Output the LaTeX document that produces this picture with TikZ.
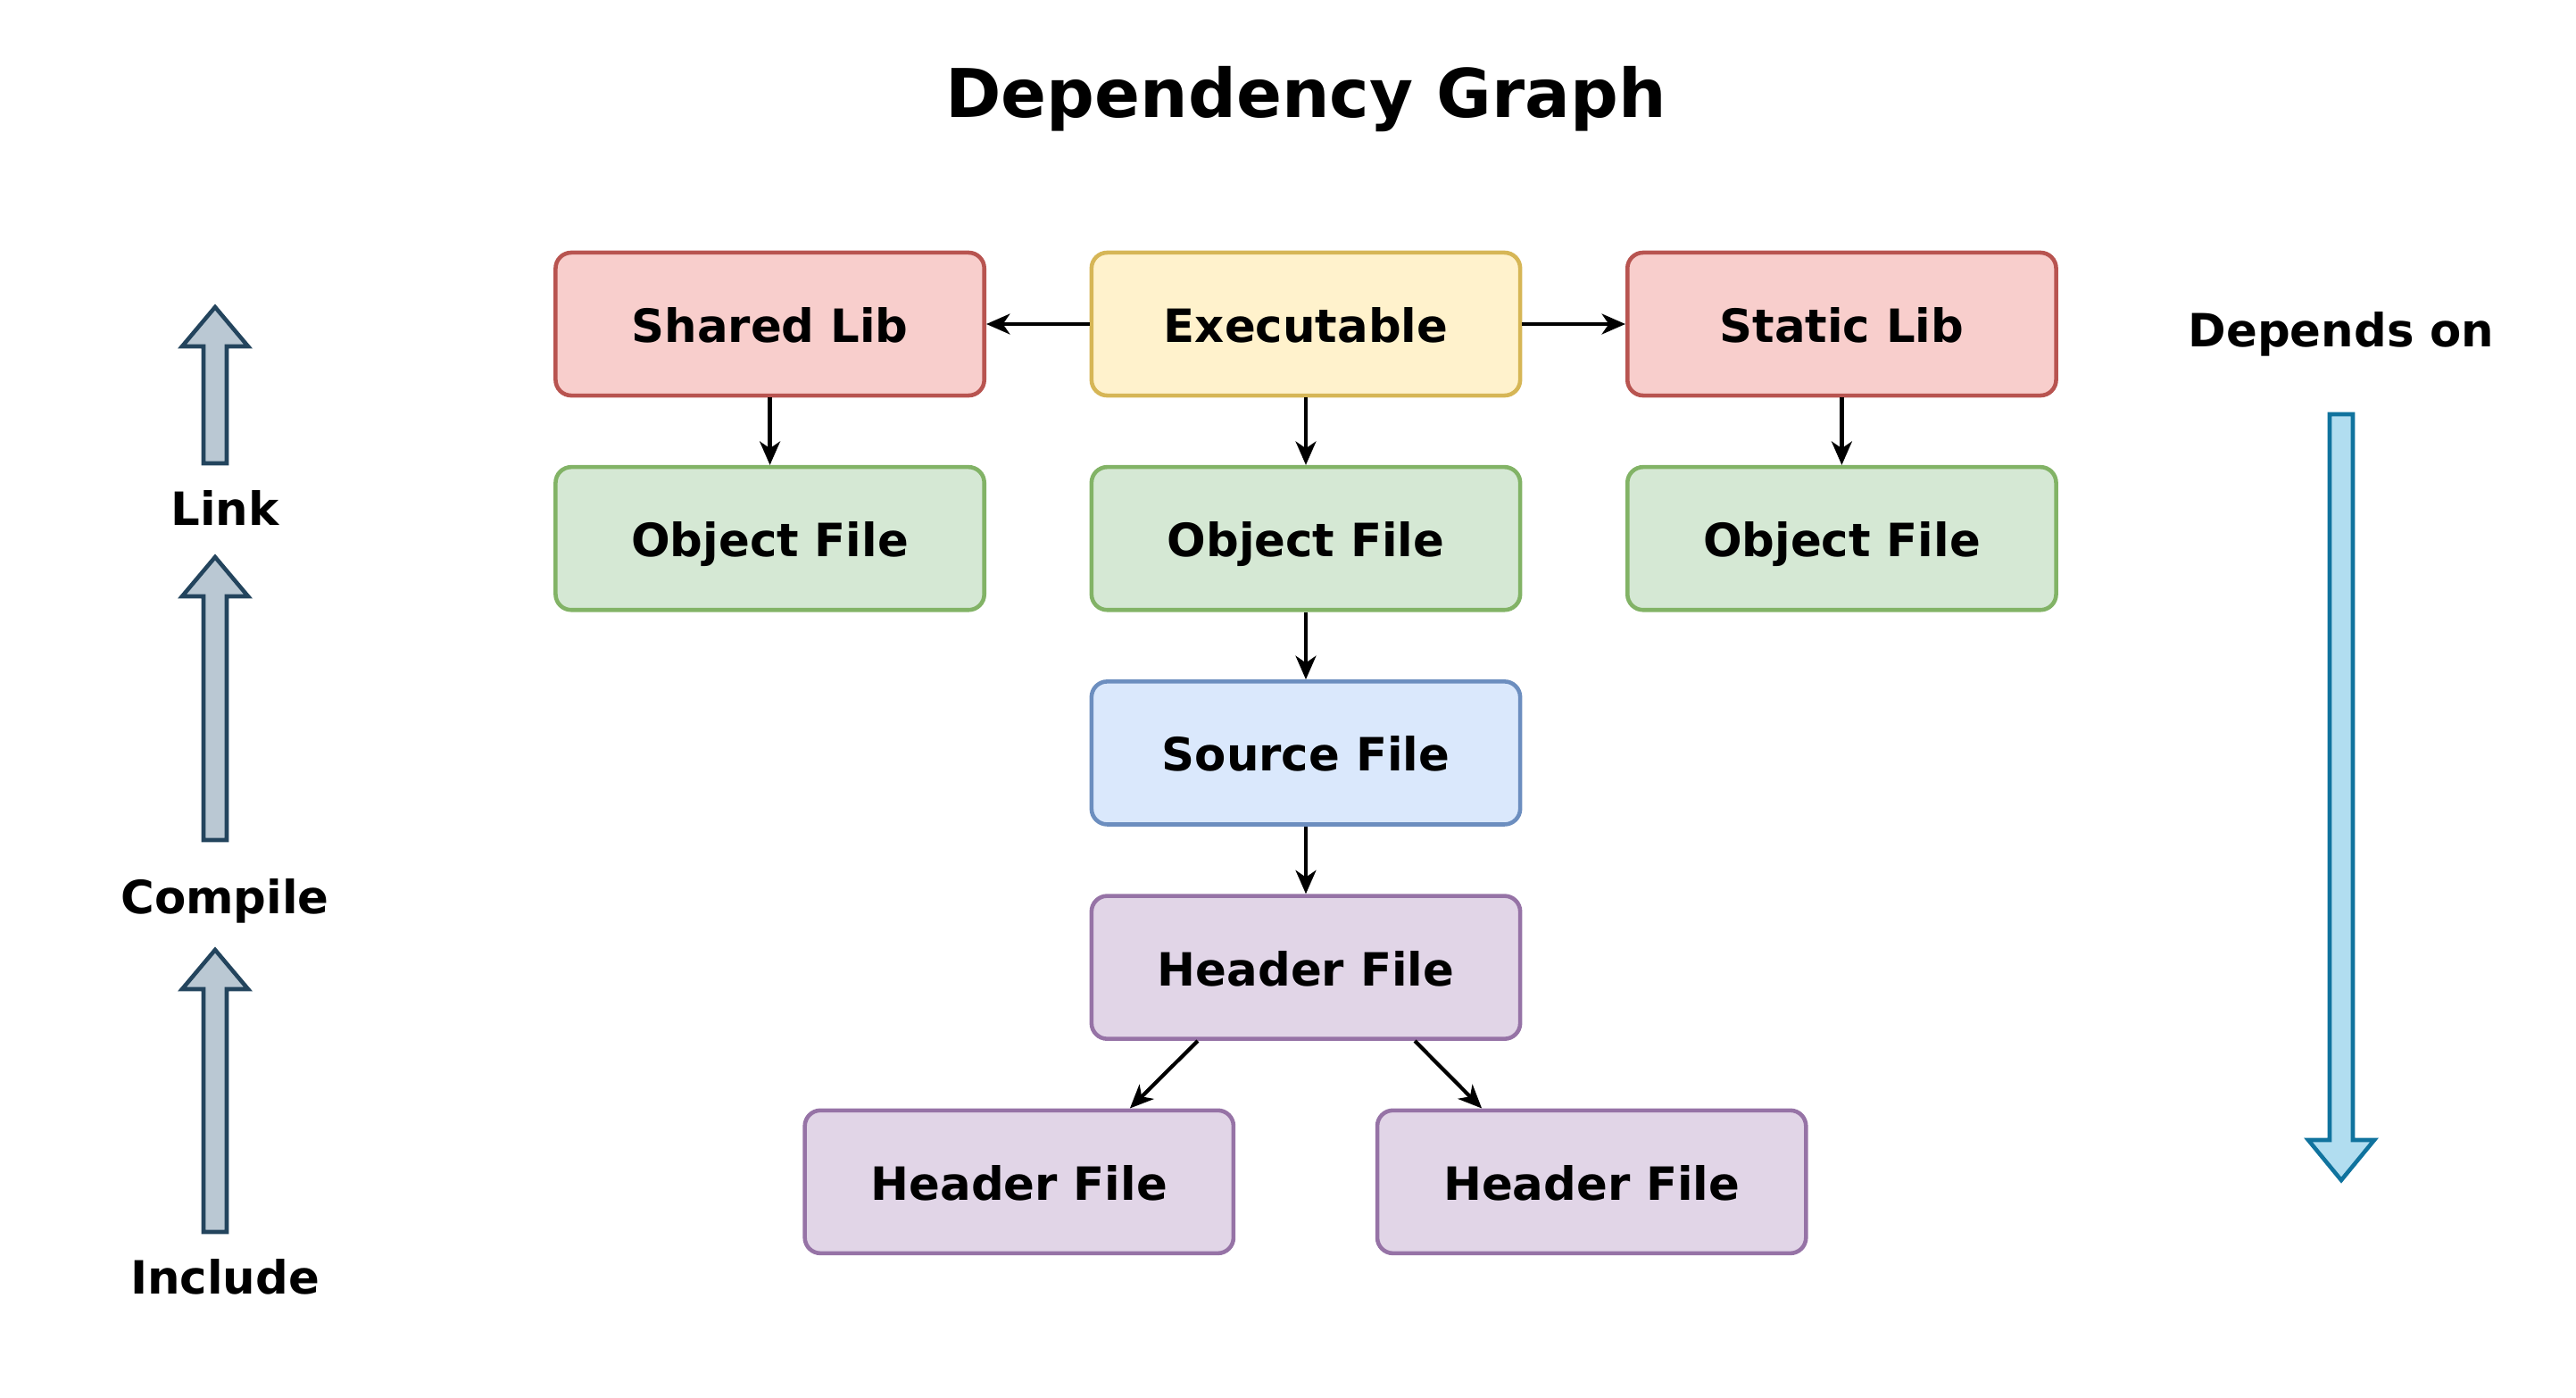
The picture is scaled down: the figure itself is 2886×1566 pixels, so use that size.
\documentclass[tikz,border=0pt]{standalone}
\usepackage{fontspec}
\setmainfont{DejaVu Sans}
\usetikzlibrary{arrows.meta, positioning}

\definecolor{redfill}{HTML}{F8CECC}
\definecolor{redline}{HTML}{B85450}
\definecolor{yellowfill}{HTML}{FFF2CC}
\definecolor{yellowline}{HTML}{D6B656}
\definecolor{greenfill}{HTML}{D5E8D4}
\definecolor{greenline}{HTML}{82B366}
\definecolor{bluefill}{HTML}{DAE8FC}
\definecolor{blueline}{HTML}{6C8EBF}
\definecolor{purplefill}{HTML}{E1D5E7}
\definecolor{purpleline}{HTML}{9673A6}
\definecolor{stepfill}{HTML}{BAC8D3}
\definecolor{stepline}{HTML}{23445D}
\definecolor{depfill}{HTML}{B1DDF0}
\definecolor{depline}{HTML}{10739E}

\begin{document}
\begin{tikzpicture}[
  x=0.01cm, y=-0.01cm,
  node distance=0.755cm and 1.155cm,
  box/.style={rectangle, draw, rounded corners=5pt, line width=1.3pt, minimum width=4.8cm, minimum height=1.6cm, text height=11.6pt, text depth=0pt, align=center, font=\fontsize{14.6pt}{17pt}\selectfont\bfseries},
  libbox/.style={box, fill=redfill, draw=redline},
  exebox/.style={box, fill=yellowfill, draw=yellowline},
  objbox/.style={box, fill=greenfill, draw=greenline},
  srcbox/.style={box, fill=bluefill, draw=blueline},
  hdrbox/.style={box, fill=purplefill, draw=purpleline},
  arrow/.style={-{Stealth[length=7.5pt, width=6.5pt, inset=2.2pt]}, line width=1.2pt},
  uparrow/.style={draw=stepline, fill=stepfill, line width=1.3pt},
  downarrow/.style={draw=depline, fill=depfill, line width=1.3pt},
  lbl/.style={font=\fontsize{14.6pt}{17pt}\selectfont\bfseries},
  title/.style={font=\fontsize{21.4pt}{25pt}\selectfont\bfseries}
]
\useasboundingbox (0,0) rectangle (2886,1566);

\node[title] (title) at (1463,111) {Dependency Graph};

% top row
\node[exebox] (exe) at (1463,363) {Executable};
\node[libbox, left=of exe] (shared) {Shared Lib};
\node[libbox, right=of exe] (static) {Static Lib};

% object files
\node[objbox, below=of shared] (objL) {Object File};
\node[objbox, below=of exe] (objM) {Object File};
\node[objbox, below=of static] (objR) {Object File};

% sources and headers
\node[srcbox, below=of objM] (src) {Source File};
\node[hdrbox, below=of src] (hdr) {Header File};
\node[hdrbox, below=of hdr, xshift=-3.21cm] (hdrL) {Header File};
\node[hdrbox, below=of hdr, xshift=3.2cm] (hdrR) {Header File};

\draw[arrow] (exe) -- (shared);
\draw[arrow] (exe) -- (static);
\draw[arrow] (shared) -- (objL);
\draw[arrow] (exe) -- (objM);
\draw[arrow] (static) -- (objR);
\draw[arrow] (objM) -- (src);
\draw[arrow] (src) -- (hdr);
\draw[arrow] ([xshift=-1.21cm]hdr.south) -- ([xshift=1.24cm]hdrL.north);
\draw[arrow] ([xshift=1.22cm]hdr.south) -- ([xshift=-1.23cm]hdrR.north);

% build stages
\node[lbl] (link) at (252,569) {Link};
\node[lbl] (compile) at (252,1009) {Compile};
\node[lbl] (include) at (252,1430) {Include};
\foreach \t/\b/\e in {344/388/519, 624/668/941, 1064/1108/1380}
  \draw[uparrow] (228,\e) -- (228,\b) -- (204,\b) -- (241,\t) -- (278,\b) -- (254,\b) -- (254,\e) -- cycle;

% dependency direction
\node[lbl] (depends) at (2623,374) {Depends on};
\draw[downarrow] (2610,464) -- (2610,1277) -- (2586,1277) -- (2623,1322) -- (2660,1277) -- (2636,1277) -- (2636,464) -- cycle;
\end{tikzpicture}
\end{document}
